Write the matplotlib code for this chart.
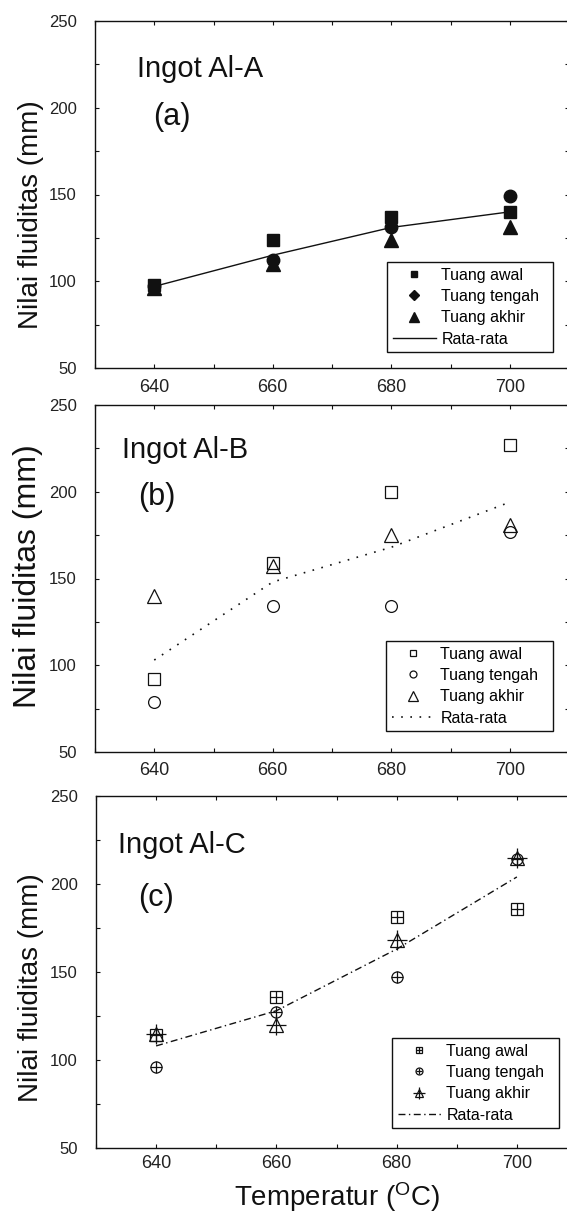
"""Nilai fluiditas vs temperatur tuang untuk tiga ingot Al (panel a, b, c)."""
import matplotlib
matplotlib.use('Agg')
import matplotlib.pyplot as plt
from matplotlib.lines import Line2D
from matplotlib.ticker import MultipleLocator

plt.rcParams['font.family'] = ['Liberation Sans', 'DejaVu Sans']
plt.rcParams['mathtext.default'] = 'regular'

W, H = 567, 1214  # output size in px (dpi 100)

temps = [640, 660, 680, 700]
labels = ['Tuang awal', 'Tuang tengah', 'Tuang akhir', 'Rata-rata']

# (a) Ingot Al-A
a_awal = [98, 124, 137, 140]
a_tengah = [97, 112, 131, 149]
a_akhir = [96, 110, 124, 131]
a_rata = [97, 115, 131, 140]

# (b) Ingot Al-B
b_awal = [92, 159, 200, 227]
b_tengah = [79, 134, 134, 177]
b_akhir = [140, 157, 175, 181]
b_rata = [103, 148, 168, 194]

# (c) Ingot Al-C
c_awal = [114, 136, 181, 186]
c_tengah = [96, 127, 147, 214]
c_akhir = [115, 120, 168, 215]
c_rata = [108, 128, 163, 204]

INK = '#111111'


def box(l, t, r, b):
    # pixel box (top-left origin) -> figure fraction [x, y, w, h]
    return [l / W, 1 - b / H, (r - l) / W, (b - t) / H]


def style_axes(ax, xpad):
    ax.set_xlim(630, 710)
    ax.set_ylim(50, 250)
    ax.xaxis.set_major_locator(MultipleLocator(20))
    ax.xaxis.set_minor_locator(MultipleLocator(10))
    ax.yaxis.set_major_locator(MultipleLocator(50))
    ax.yaxis.set_minor_locator(MultipleLocator(25))
    ax.tick_params(which='both', direction='in', top=True, right=True,
                   length=3, width=0.8, color=INK)
    ax.tick_params(axis='y', labelsize=12, pad=13, labelcolor='#222222')
    ax.tick_params(axis='x', labelsize=13, pad=xpad, labelcolor='#222222')
    for sp in ax.spines.values():
        sp.set_linewidth(1.0)
        sp.set_color(INK)


def add_legend(ax, handles, l, t, r, b):
    leg = ax.legend(handles, labels, loc='upper left', mode='expand',
                    bbox_to_anchor=box(l, t, r, b), bbox_transform=fig.transFigure,
                    fontsize=11.5, frameon=True, fancybox=False, framealpha=1,
                    edgecolor=INK, borderpad=0.35, labelspacing=0.4,
                    handlelength=2.7, handletextpad=0.35, borderaxespad=0)
    leg.get_frame().set_linewidth(1.0)
    return leg


fig = plt.figure(figsize=(W / 100, H / 100), dpi=100, facecolor='white')

# ---------------- panel (a) ----------------
ax = fig.add_axes(box(95, 21, 569, 368))
ax.plot(temps, a_rata, color=INK, lw=1.0)
ax.plot(temps, a_tengah, ls='none', marker='o', ms=9, color=INK)
ax.plot(temps, a_awal, ls='none', marker='s', ms=8.5, color=INK)
ax.plot(temps, a_akhir, ls='none', marker='^', ms=10, color=INK)
style_axes(ax, 8)
hands = [Line2D([], [], ls='none', marker='s', ms=5, color=INK),
         Line2D([], [], ls='none', marker='D', ms=5, color=INK),
         Line2D([], [], ls='none', marker='^', ms=7, color=INK),
         Line2D([], [], ls='-', lw=1.0, color=INK)]
add_legend(ax, hands, 387, 262, 553, 355)

# ---------------- panel (b) ----------------
ax = fig.add_axes(box(95, 405, 569, 752))
ax.plot(temps, b_rata, color=INK, lw=1.2, ls=(0, (1, 4.5)))
ax.plot(temps, b_awal, ls='none', marker='s', ms=8.5, mfc='none', mec=INK, mew=0.9)
ax.plot(temps, b_tengah, ls='none', marker='o', ms=8.5, mfc='none', mec=INK, mew=0.9)
ax.plot(temps, b_akhir, ls='none', marker='^', ms=10.5, mfc='none', mec=INK, mew=0.9)
style_axes(ax, 7)
hands = [Line2D([], [], ls='none', marker='s', ms=5, mfc='none', mec=INK, mew=0.9),
         Line2D([], [], ls='none', marker='o', ms=5, mfc='none', mec=INK, mew=0.9),
         Line2D([], [], ls='none', marker='^', ms=6.5, mfc='none', mec=INK, mew=0.9),
         Line2D([], [], lw=1.2, ls=(0, (1, 4.5)), color=INK)]
add_legend(ax, hands, 386, 641, 553, 733)

# ---------------- panel (c) ----------------
ax = fig.add_axes(box(96, 796, 577, 1148))
dashdot = (0, (5, 2.5, 1, 2.5))
ax.plot(temps, c_rata, color=INK, lw=1.0, ls=dashdot)
ax.plot(temps, c_awal, ls='none', marker='s', ms=8, mfc='none', mec=INK, mew=0.9)
ax.plot(temps, c_awal, ls='none', marker='+', ms=8, mec=INK, mew=0.9)
ax.plot(temps, c_tengah, ls='none', marker='o', ms=8, mfc='none', mec=INK, mew=0.9)
ax.plot(temps, c_tengah, ls='none', marker='+', ms=8, mec=INK, mew=0.9)
ax.plot(temps, c_akhir, ls='none', marker='^', ms=10, mfc='none', mec=INK, mew=0.9)
ax.plot(temps, c_akhir, ls='none', marker='+', ms=14, mec=INK, mew=0.9)
style_axes(ax, 5)
hands = [(Line2D([], [], ls='none', marker='s', ms=5, mfc='none', mec=INK, mew=0.9),
          Line2D([], [], ls='none', marker='+', ms=5, mec=INK, mew=0.9)),
         (Line2D([], [], ls='none', marker='o', ms=5, mfc='none', mec=INK, mew=0.9),
          Line2D([], [], ls='none', marker='+', ms=5, mec=INK, mew=0.9)),
         (Line2D([], [], ls='none', marker='^', ms=6, mfc='none', mec=INK, mew=0.9),
          Line2D([], [], ls='none', marker='+', ms=8, mec=INK, mew=0.9)),
         Line2D([], [], lw=1.0, ls=dashdot, color=INK)]
add_legend(ax, hands, 392, 1038, 559, 1132)

# ---------------- texts ----------------
for txt, x, y in [('Ingot Al-A', 137, 77), ('Ingot Al-B', 122, 458), ('Ingot Al-C', 118, 853)]:
    fig.text(x / W, 1 - y / H, txt, fontsize=21, color=INK, ha='left', va='baseline')
for txt, x, y in [('(a)', 172, 117), ('(b)', 157, 497), ('(c)', 156, 898)]:
    fig.text(x / W, 1 - y / H, txt, fontsize=22, color=INK, ha='center', va='center')
for x, y, fs in [(31, 215, 20), (28, 576, 23), (31, 988, 20)]:
    fig.text(x / W, 1 - y / H, 'Nilai fluiditas (mm)', fontsize=fs, color=INK,
             rotation=90, ha='center', va='center')
fig.text(337 / W, 1 - 1197 / H, r'Temperatur ($^{O}$C)', fontsize=20, color=INK,
         ha='center', va='center')

fig.savefig('out.png', dpi=100, facecolor='white')
